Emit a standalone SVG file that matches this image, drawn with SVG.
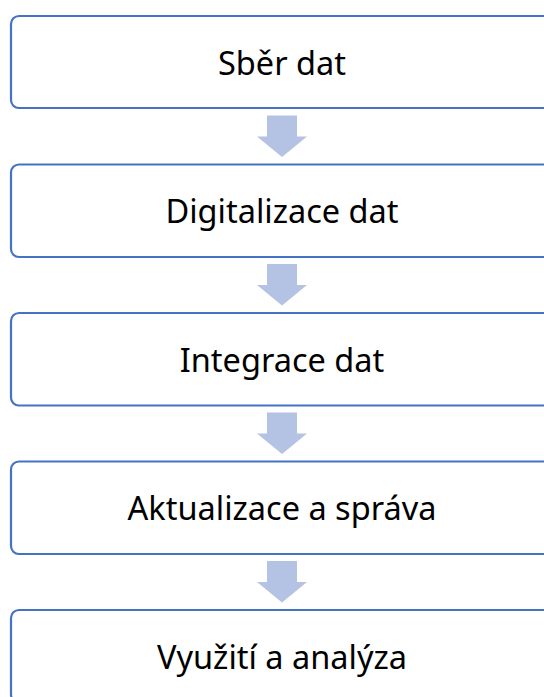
<svg xmlns="http://www.w3.org/2000/svg" width="544" height="697" viewBox="0 0 544 697">
<style>
.box{fill:#FFFFFF;stroke:#4472C4;stroke-width:2.2}
.lbl{font-family:"Noto Sans","Open Sans","DejaVu Sans",sans-serif;font-size:32.5px;fill:#000000;text-anchor:middle}
.arr{fill:#B4C3E3}
</style>
<rect width="544" height="697" fill="#FFFFFF"/>
<g id="connectors">
<polygon class="arr" points="267,115.5 297,115.5 297,136.5 307,136.5 282,157 257,136.5 267,136.5"/>
<polygon class="arr" points="267,264 297,264 297,285 307,285 282,305.5 257,285 267,285"/>
<polygon class="arr" points="267,412.5 297,412.5 297,433.5 307,433.5 282,454 257,433.5 267,433.5"/>
<polygon class="arr" points="267,561 297,561 297,582 307,582 282,602.5 257,582 267,582"/>
</g>
<g id="n1"><rect class="box" x="11" y="16" width="541" height="92" rx="8"/><text class="lbl" x="282" y="74.5">Sběr dat</text></g>
<g id="n2"><rect class="box" x="11" y="164.5" width="541" height="92.5" rx="8"/><text class="lbl" x="282" y="223">Digitalizace dat</text></g>
<g id="n3"><rect class="box" x="11" y="313" width="541" height="92.5" rx="8"/><text class="lbl" x="282" y="371.5">Integrace dat</text></g>
<g id="n4"><rect class="box" x="11" y="461.5" width="541" height="92.5" rx="8"/><text class="lbl" x="282" y="520">Aktualizace a správa</text></g>
<g id="n5"><rect class="box" x="11" y="610" width="541" height="92.5" rx="8"/><text class="lbl" x="282" y="668.5">Využití a analýza</text></g>
</svg>
